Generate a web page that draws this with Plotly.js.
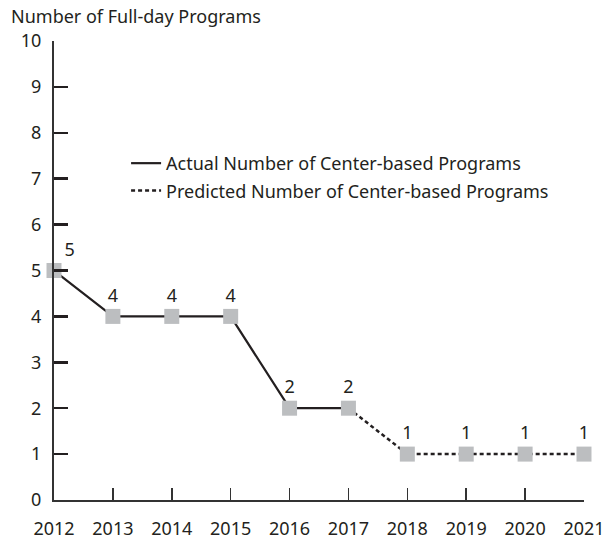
<!DOCTYPE html>
<html>
<head>
<meta charset="utf-8">
<script src="https://cdn.plot.ly/plotly-3.0.1.min.js"></script>
<style>html,body{margin:0;padding:0;background:#fff;}#chart{width:611px;height:540px;}</style>
</head>
<body>
<div id="chart"></div>
<script>
const years = [2012, 2013, 2014, 2015, 2016, 2017, 2018, 2019, 2020, 2021];
const programs = [5, 4, 4, 4, 2, 2, 1, 1, 1, 1];
const actualYears = [2012, 2013, 2014, 2015, 2016, 2017];
const actualValues = [5, 4, 4, 4, 2, 2];
const predictedYears = [2017, 2018, 2019, 2020, 2021];
const predictedValues = [2, 1, 1, 1, 1];
const yTicks = [0, 1, 2, 3, 4, 5, 6, 7, 8, 9, 10];
const labelPositions = ['top right','top center','top center','top center','top center','top center','top center','top center','top center','top center'];

const FONT = 'Noto Sans, Open Sans, sans-serif';
const TXT = '#231f20';
const DASH = '4px,3px';

const traces = [
  {x: actualYears, y: actualValues, mode: 'lines', line: {color: '#231f20', width: 2.2}, showlegend: false, hoverinfo: 'skip'},
  {x: predictedYears, y: predictedValues, mode: 'lines', line: {color: '#231f20', width: 2.5, dash: DASH}, showlegend: false, hoverinfo: 'skip'},
  {x: years, y: programs, mode: 'markers+text', marker: {symbol: 'square', size: 15, color: '#bcbec0'},
   text: programs.map(String), textposition: labelPositions, textfont: {family: FONT, size: 18, color: TXT},
   showlegend: false, cliponaxis: false},
  {x: [null], y: [null], mode: 'lines', name: 'Actual Number of Center-based Programs', legendgroup: 'a', line: {color: '#231f20', width: 2.2}},
  {x: [null], y: [null], mode: 'lines', name: 'Predicted Number of Center-based Programs', legendgroup: 'p', line: {color: '#231f20', width: 2.5, dash: DASH}}
];

const layout = {
  width: 611, height: 540,
  margin: {l: 54, r: 27, t: 41, b: 40},
  paper_bgcolor: '#fff', plot_bgcolor: '#fff',
  font: {family: FONT, size: 18, color: TXT},
  title: {text: 'Number of Full-day Programs', font: {family: FONT, size: 18, color: TXT},
          xref: 'container', yref: 'container', x: 11/611, xanchor: 'left', y: 1 - 17/540, yanchor: 'middle'},
  xaxis: {range: [2012, 2021], tickvals: years, ticktext: years.map(String), ticks: 'inside', ticklen: 12, tickwidth: 1.5,
          tickcolor: '#333', showline: true, linecolor: '#333', linewidth: 2, showgrid: false, zeroline: false,
          ticklabelstandoff: 11, tickfont: {family: FONT, size: 18, color: TXT}, fixedrange: true},
  yaxis: {range: [0, 10], tickvals: yTicks, ticks: 'inside', ticklen: 14, tickwidth: 2.5, tickcolor: '#231f20',
          showline: true, linecolor: '#333', linewidth: 2, showgrid: false, zeroline: false,
          ticklabelstandoff: 7, tickfont: {family: FONT, size: 18, color: TXT}, fixedrange: true},
  legend: {x: 0.136, y: 0.7735, xanchor: 'left', yanchor: 'top', bgcolor: 'rgba(0,0,0,0)', font: {family: FONT, size: 18, color: TXT},
           tracegroupgap: 1},
  showlegend: true
};

Plotly.newPlot('chart', traces, layout, {displayModeBar: false, staticPlot: true});
</script>
</body>
</html>
